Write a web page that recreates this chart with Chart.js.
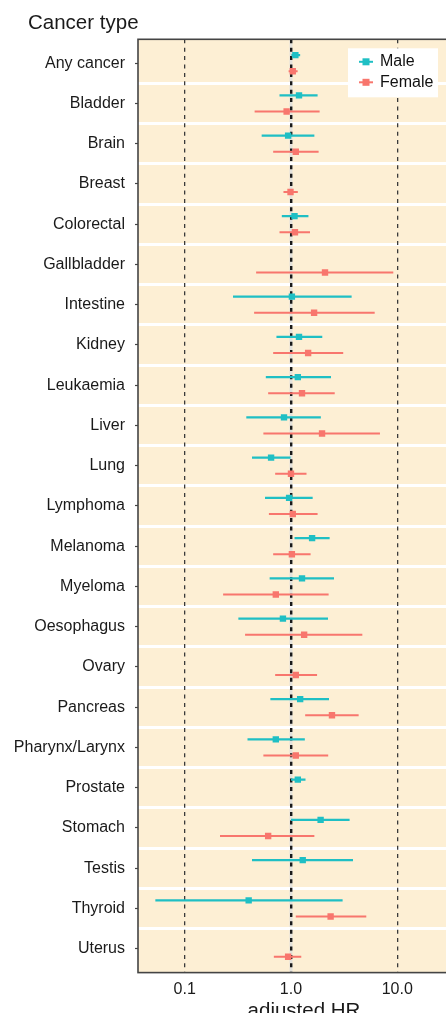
<!DOCTYPE html>
<html lang="en">
<head>
    <meta charset="UTF-8">
    <title>Cancer type - adjusted HR</title>
    <script src="https://cdn.jsdelivr.net/npm/chart.js"></script>
    <style>
        html, body {
            margin: 0;
            padding: 0;
            background: #ffffff;
            overflow: hidden;
        }
        #wrap {
            width: 470px;
            height: 1030px;
        }
    </style>
</head>
<body>
    <div id="wrap">
        <canvas id="forest" width="470" height="1030"></canvas>
    </div>

<script>
    // categories, top to bottom
    const categories = ['Any cancer', 'Bladder', 'Brain', 'Breast', 'Colorectal', 'Gallbladder', 'Intestine',
        'Kidney', 'Leukaemia', 'Liver', 'Lung', 'Lymphoma', 'Melanoma', 'Myeloma', 'Oesophagus', 'Ovary',
        'Pancreas', 'Pharynx/Larynx', 'Prostate', 'Stomach', 'Testis', 'Thyroid', 'Uterus'];

    // Male: hazard ratio and 95% CI (null = not shown)
    const maleHR = [1.10, 1.19, 0.94, null, 1.08, null, 1.02, 1.19, 1.16, 0.86, 0.65, 0.96, 1.58, 1.27, 0.84, null, 1.22, 0.72, 1.16, 1.90, 1.29, 0.40, null];
    const maleLo = [1.01, 0.78, 0.53, null, 0.82, null, 0.285, 0.73, 0.58, 0.38, 0.43, 0.57, 1.08, 0.63, 0.32, null, 0.64, 0.39, 1.00, 1.00, 0.43, 0.053, null];
    const maleHi = [1.22, 1.78, 1.66, null, 1.46, null, 3.72, 1.97, 2.38, 1.91, 0.99, 1.60, 2.31, 2.54, 2.23, null, 2.28, 1.35, 1.37, 3.56, 3.83, 3.06, null];

    // Female: hazard ratio and 95% CI
    const femaleHR = [1.04, 0.91, 1.11, 0.99, 1.09, 2.09, 1.65, 1.45, 1.27, 1.96, 1.00, 1.04, 1.02, 0.72, 1.33, 1.11, 2.43, 1.11, null, 0.61, null, 2.36, 0.94];
    const femaleLo = [0.95, 0.455, 0.68, 0.85, 0.78, 0.47, 0.45, 0.68, 0.61, 0.55, 0.71, 0.62, 0.68, 0.23, 0.37, 0.71, 1.36, 0.55, null, 0.215, null, 1.11, 0.69];
    const femaleHi = [1.155, 1.86, 1.82, 1.16, 1.51, 9.17, 6.13, 3.10, 2.58, 6.87, 1.40, 1.78, 1.53, 2.26, 4.69, 1.76, 4.33, 2.24, null, 1.66, null, 5.11, 1.25];

    // x axis tick values
    const xTicks = [0.1, 1, 10];

    const MALE = '#1fbfc4';
    const FEMALE = '#f8766d';
    const PANEL = '#fdefd4';
    const TEXTO = '#1a1a1a';
    const FONTE = "'Liberation Sans', Arial, Helvetica, sans-serif";

    // vertical position inside a category row
    const maleShift = -0.2;
    const femaleShift = 0.2;

    function pontos(hr, shift) {
        const out = [];
        hr.forEach((v, i) => {
            if (v != null) out.push({ x: v, y: i + shift });
        });
        return out;
    }

    // segments lo-hi separated by a gap point
    function barras(lo, hi, shift) {
        const out = [];
        lo.forEach((v, i) => {
            if (v == null) return;
            out.push({ x: v, y: i + shift });
            out.push({ x: hi[i], y: i + shift });
            out.push({ x: null, y: null });
        });
        return out;
    }

    Chart.defaults.font.family = FONTE;
    Chart.defaults.color = TEXTO;

    // beige panel + light line under the 1.0 reference
    const fundoPainel = {
        id: 'fundoPainel',
        beforeDraw(chart) {
            const { ctx, chartArea } = chart;
            ctx.save();
            ctx.fillStyle = PANEL;
            ctx.fillRect(chartArea.left, chartArea.top, chartArea.right - chartArea.left, chartArea.bottom - chartArea.top);
            const x1 = chart.scales.x.getPixelForValue(1);
            ctx.strokeStyle = '#e4e2dc';
            ctx.lineWidth = 3;
            ctx.beginPath();
            ctx.moveTo(x1, chartArea.top);
            ctx.lineTo(x1, chartArea.bottom);
            ctx.stroke();
            ctx.restore();
        }
    };

    // panel border, heading and legend box
    const moldura = {
        id: 'moldura',
        afterDraw(chart) {
            const { ctx, chartArea } = chart;
            ctx.save();
            ctx.strokeStyle = '#444';
            ctx.lineWidth = 1.6;
            ctx.strokeRect(chartArea.left, chartArea.top, chartArea.right - chartArea.left, chartArea.bottom - chartArea.top);

            // heading
            ctx.fillStyle = TEXTO;
            ctx.font = '20.5px ' + FONTE;
            ctx.textAlign = 'left';
            ctx.textBaseline = 'alphabetic';
            ctx.fillText('Cancer type', 28, 29.3);

            // legend
            const lx = chartArea.right - 122;
            const ly = chartArea.top + 9;
            ctx.fillStyle = '#fff';
            ctx.fillRect(lx, ly, 90, 49);
            const itens = [['Male', MALE], ['Female', FEMALE]];
            itens.forEach((it, k) => {
                const cy = ly + 13.5 + k * 20.5;
                ctx.strokeStyle = it[1];
                ctx.lineWidth = 2;
                ctx.beginPath();
                ctx.moveTo(lx + 11, cy);
                ctx.lineTo(lx + 25, cy);
                ctx.stroke();
                ctx.fillStyle = it[1];
                ctx.fillRect(lx + 14.5, cy - 3.5, 7, 7);
                ctx.fillStyle = '#111';
                ctx.font = '16px ' + FONTE;
                ctx.textBaseline = 'middle';
                ctx.textAlign = 'left';
                ctx.fillText(it[0], lx + 32, cy);
            });
            ctx.restore();
        }
    };

    const yMin = -0.594;
    const yMax = categories.length - 1 + 0.594;

    const config = {
        type: 'scatter',
        data: {
            datasets: [
                {
                    label: 'Male',
                    data: pontos(maleHR, maleShift),
                    pointStyle: 'rect',
                    pointRadius: 4.5,
                    pointBorderWidth: 0,
                    backgroundColor: MALE,
                    borderColor: MALE,
                    order: 0
                },
                {
                    label: 'Female',
                    data: pontos(femaleHR, femaleShift),
                    pointStyle: 'rect',
                    pointRadius: 4.5,
                    pointBorderWidth: 0,
                    backgroundColor: FEMALE,
                    borderColor: FEMALE,
                    order: 0
                },
                {
                    label: 'Male CI',
                    data: barras(maleLo, maleHi, maleShift),
                    showLine: true,
                    spanGaps: false,
                    pointRadius: 0,
                    borderColor: MALE,
                    borderWidth: 2.2,
                    order: 1
                },
                {
                    label: 'Female CI',
                    data: barras(femaleLo, femaleHi, femaleShift),
                    showLine: true,
                    spanGaps: false,
                    pointRadius: 0,
                    borderColor: FEMALE,
                    borderWidth: 2.2,
                    order: 1
                }
            ]
        },
        options: {
            responsive: false,
            animation: false,
            devicePixelRatio: 1,
            layout: {
                autoPadding: false,
                padding: { left: 0, right: 0, top: 39.3, bottom: 0 }
            },
            plugins: {
                legend: { display: false },
                tooltip: { enabled: false },
                title: { display: false }
            },
            scales: {
                x: {
                    type: 'logarithmic',
                    min: 0.0364,
                    max: 48.3,
                    afterBuildTicks: (axis) => {
                        axis.ticks = xTicks.map(v => ({ value: v }));
                    },
                    afterFit: (axis) => {
                        axis.height = 57.4;
                    },
                    ticks: {
                        color: TEXTO,
                        font: { size: 16 },
                        padding: 7,
                        autoSkip: false,
                        maxRotation: 0,
                        callback: (v) => Number(v).toFixed(1)
                    },
                    grid: {
                        z: -1,
                        color: (c) => (c.tick && c.tick.value === 1 ? '#1a1a1a' : '#3a3a3a'),
                        lineWidth: (c) => (c.tick && c.tick.value === 1 ? 2.4 : 1.3),
                        drawTicks: false
                    },
                    border: {
                        display: false,
                        dash: [4, 4.4]
                    },
                    title: {
                        display: true,
                        text: 'adjusted HR',
                        color: TEXTO,
                        font: { size: 20.5, weight: 'normal' },
                        padding: { top: 0, bottom: 6.6 }
                    }
                },
                y: {
                    type: 'linear',
                    reverse: true,
                    min: yMin,
                    max: yMax,
                    afterBuildTicks: (axis) => {
                        axis.ticks = categories.map((c, i) => ({ value: i }));
                    },
                    afterFit: (axis) => {
                        axis.width = 138;
                    },
                    ticks: {
                        color: TEXTO,
                        font: { size: 16 },
                        padding: 10,
                        autoSkip: false,
                        callback: (v) => categories[v]
                    },
                    grid: {
                        display: true,
                        drawOnChartArea: false,
                        drawTicks: true,
                        tickLength: 3,
                        tickColor: '#444',
                        tickWidth: 1.2
                    },
                    border: { display: false }
                },
                ySep: {
                    type: 'linear',
                    position: 'right',
                    reverse: true,
                    min: yMin,
                    max: yMax,
                    afterBuildTicks: (axis) => {
                        axis.ticks = categories.slice(1).map((c, i) => ({ value: i + 0.5 }));
                    },
                    afterFit: (axis) => {
                        axis.width = 0;
                    },
                    ticks: { display: false },
                    grid: {
                        z: -2,
                        color: '#ffffff',
                        lineWidth: 3,
                        drawTicks: false
                    },
                    border: { display: false }
                }
            }
        },
        plugins: [fundoPainel, moldura]
    };

    const grafico = new Chart(document.getElementById('forest'), config);
</script>
</body>
</html>
